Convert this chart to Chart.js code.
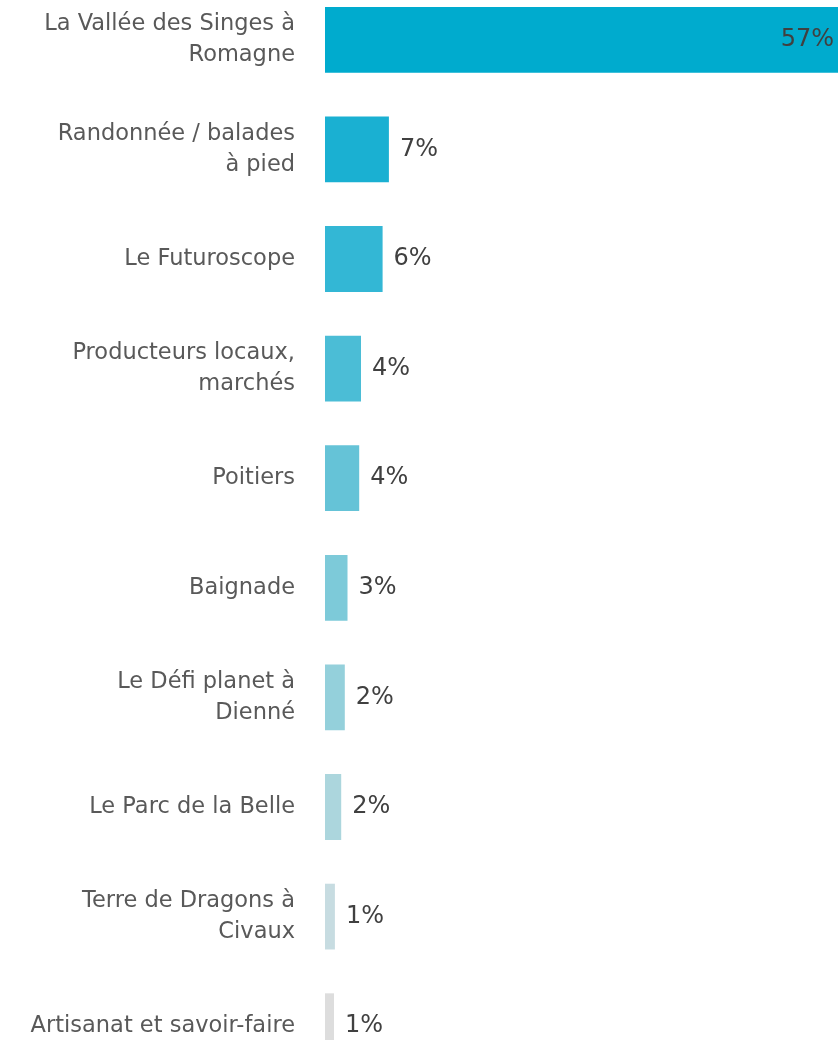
<!DOCTYPE html>
<html>
<head>
<meta charset="utf-8">
<script src="https://cdn.jsdelivr.net/npm/chart.js@4/dist/chart.umd.min.js"></script>
<style>
  html, body { margin: 0; padding: 0; background: #fff; overflow: hidden; }
  #wrap { width: 838px; height: 1040px; overflow: hidden; position: relative; }
  #myChart { position: absolute; left: 0; top: -15px; }
</style>
</head>
<body>
<div id="wrap">
  <canvas id="myChart" width="838" height="1096"></canvas>
</div>
<script>
// categories (multi-line labels as arrays)
const categories = [
  ['La Vallée des Singes à', 'Romagne'],
  ['Randonnée / balades', 'à pied'],
  'Le Futuroscope',
  ['Producteurs locaux,', 'marchés'],
  'Poitiers',
  'Baignade',
  ['Le Défi planet à', 'Dienné'],
  'Le Parc de la Belle',
  ['Terre de Dragons à', 'Civaux'],
  'Artisanat et savoir-faire'
]
// share of answers, %
const values = [57, 7.1, 6.4, 4.0, 3.8, 2.5, 2.2, 1.8, 1.1, 1.0]
// printed labels
const valueLabels = ['57%', '7%', '6%', '4%', '4%', '3%', '2%', '2%', '1%', '1%']
const barColors = [
  '#00abce', '#1ab0d2', '#33b7d5', '#4bbdd6', '#65c3d7',
  '#7dcad9', '#94d0db', '#acd6dd', '#c7dce1', '#dddddd'
]

const valuePlugin = {
  id: 'valueLabels',
  afterDatasetsDraw(chart) {
    const ctx = chart.ctx
    const meta = chart.getDatasetMeta(0)
    ctx.save()
    ctx.font = '24px "DejaVu Sans"'
    ctx.fillStyle = '#404040'
    ctx.textBaseline = 'middle'
    meta.data.forEach((bar, i) => {
      if (i === 0) {
        ctx.textAlign = 'right'
        ctx.fillText(valueLabels[i], bar.x - 4, bar.y)
      } else {
        ctx.textAlign = 'left'
        ctx.fillText(valueLabels[i], bar.x + 11, bar.y)
      }
    })
    ctx.restore()
  }
}

const ctx = document.getElementById('myChart').getContext('2d')
const myChart = new Chart(ctx, {
  type: 'bar',
  data: {
    labels: categories,
    datasets: [{
      data: values,
      backgroundColor: barColors,
      borderWidth: 0,
      categoryPercentage: 1,
      barPercentage: 0.6
    }]
  },
  options: {
    indexAxis: 'y',
    responsive: false,
    animation: false,
    layout: { padding: 0 },
    plugins: {
      legend: { display: false },
      tooltip: { enabled: false }
    },
    scales: {
      x: {
        display: false,
        min: 0,
        max: 57
      },
      y: {
        grid: { display: false, drawTicks: false },
        border: { display: false },
        afterFit(scale) {
          scale.width = 325
          scale.paddingTop = 0
          scale.paddingBottom = 0
        },
        ticks: {
          padding: 30,
          color: '#595959',
          font: { family: 'DejaVu Sans', size: 22.5, lineHeight: '31px' }
        }
      }
    }
  },
  plugins: [valuePlugin]
})
</script>
</body>
</html>
